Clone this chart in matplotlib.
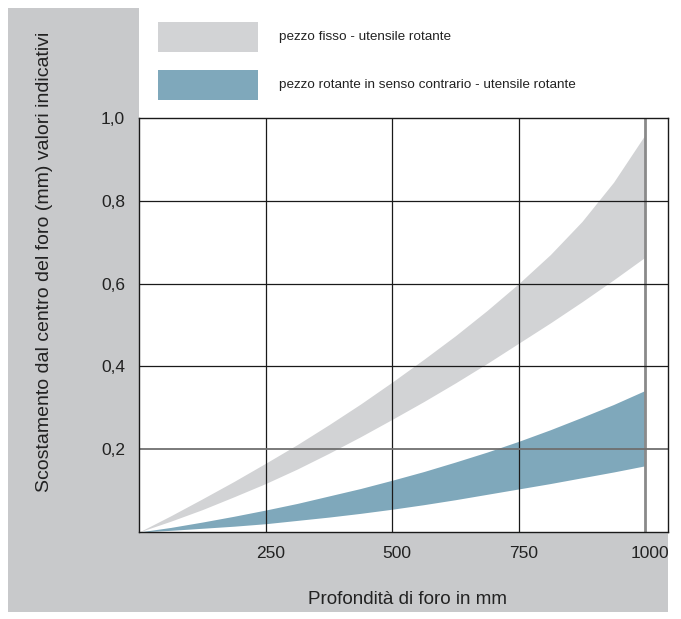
import matplotlib
matplotlib.use("Agg")
import matplotlib.pyplot as plt
from matplotlib.patches import Rectangle
import matplotlib.transforms as mtransforms

plt.rcParams['font.family'] = ['Liberation Sans', 'DejaVu Sans']

# Data
depth = [0, 62.5, 125, 187.5, 250, 312.5, 375, 437.5, 500,
         562.5, 625, 687.5, 750, 812.5, 875, 937.5, 1000]
fixed_upper = [0, 0.039, 0.080, 0.122, 0.166, 0.211, 0.259, 0.309, 0.362,
               0.417, 0.474, 0.535, 0.600, 0.670, 0.750, 0.845, 0.960]
fixed_lower = [0, 0.026, 0.054, 0.085, 0.117, 0.152, 0.190, 0.230, 0.272,
               0.315, 0.360, 0.407, 0.456, 0.505, 0.556, 0.609, 0.664]
counter_upper = [0, 0.011, 0.024, 0.038, 0.053, 0.069, 0.087, 0.105, 0.125,
                 0.146, 0.169, 0.193, 0.219, 0.247, 0.277, 0.308, 0.342]
counter_lower = [0, 0.004, 0.009, 0.014, 0.020, 0.028, 0.036, 0.045, 0.055,
                 0.066, 0.078, 0.091, 0.104, 0.117, 0.131, 0.145, 0.160]

series_labels = ["pezzo fisso - utensile rotante",
                 "pezzo rotante in senso contrario - utensile rotante"]
x_ticks = [250, 500, 750, 1000]
x_ticklabels = ["250", "500", "750", "1000"]
y_ticks = [0.2, 0.4, 0.6, 0.8, 1.0]
y_ticklabels = ["0,2", "0,4", "0,6", "0,8", "1,0"]

W, H = 681, 619
fig = plt.figure(figsize=(W / 100, H / 100), dpi=100)
fig.patch.set_facecolor("white")

bg = "#c8c9cb"
def px_rect(x0, y0, x1, y1, color, z=0):
    fig.patches.append(Rectangle((x0 / W, 1 - y1 / H), (x1 - x0) / W, (y1 - y0) / H,
                                 transform=fig.transFigure, facecolor=color,
                                 edgecolor="none", zorder=z))

px_rect(8, 8, 668, 612, bg, z=-2)
px_rect(139, 0, 681, 118, "white", z=-1)

L, R, T, B = 139, 668, 118, 532
ax = fig.add_axes([L / W, 1 - B / H, (R - L) / W, (B - T) / H])
ax.set_zorder(5)
ax.set_facecolor("white")

gray_band = "#d2d3d5"
blue_band = "#7fa8bb"
ax.fill_between(depth, fixed_lower, fixed_upper, color=gray_band, lw=0, zorder=1)
ax.fill_between(depth, counter_lower, counter_upper, color=blue_band, lw=0, zorder=1)

ax.set_xlim(0, 1045)
ax.set_ylim(0, 1.0)

for xv in x_ticks:
    if xv == 1000:
        ax.axvline(xv, color="#8a8a8a", lw=2.0, zorder=3)
    else:
        ax.axvline(xv, color="#1a1a1a", lw=0.9, zorder=3)
for yv in y_ticks[:-1]:
    if yv == 0.2:
        ax.axhline(yv, color="#6f6f6f", lw=1.3, zorder=3)
    else:
        ax.axhline(yv, color="#1a1a1a", lw=0.9, zorder=3)

for s in ax.spines.values():
    s.set_color("#1a1a1a")
    s.set_linewidth(1.0)
    s.set_zorder(4)

ax.set_xticks(x_ticks)
ax.set_xticklabels(x_ticklabels)
ax.set_yticks(y_ticks)
ax.set_yticklabels(y_ticklabels)
ax.tick_params(axis="both", length=0, labelsize=12.5, colors="#222222")
ax.tick_params(axis="x", pad=10)
ax.tick_params(axis="y", pad=10)
offset = mtransforms.ScaledTranslation(5 / 100, 0, fig.dpi_scale_trans)
for lab in ax.get_xticklabels():
    lab.set_transform(lab.get_transform() + offset)

fig.text(407 / W, 1 - 599 / H, "Profondità di foro in mm", ha="center", va="center",
         fontsize=13.6, color="#222222")
fig.text(45 / W, 1 - 262 / H, "Scostamento dal centro del foro (mm) valori indicativi",
         ha="center", va="center", rotation=90, fontsize=14, color="#222222")

# Legend
px_rect(158, 22, 258, 52, gray_band, z=1)
px_rect(158, 70, 258, 100, blue_band, z=1)
fig.text(279 / W, 1 - 37 / H, series_labels[0], ha="left", va="center",
         fontsize=9.7, color="#222222")
fig.text(279 / W, 1 - 85 / H, series_labels[1], ha="left", va="center",
         fontsize=9.7, color="#222222")

fig.savefig("out.png", dpi=100)
